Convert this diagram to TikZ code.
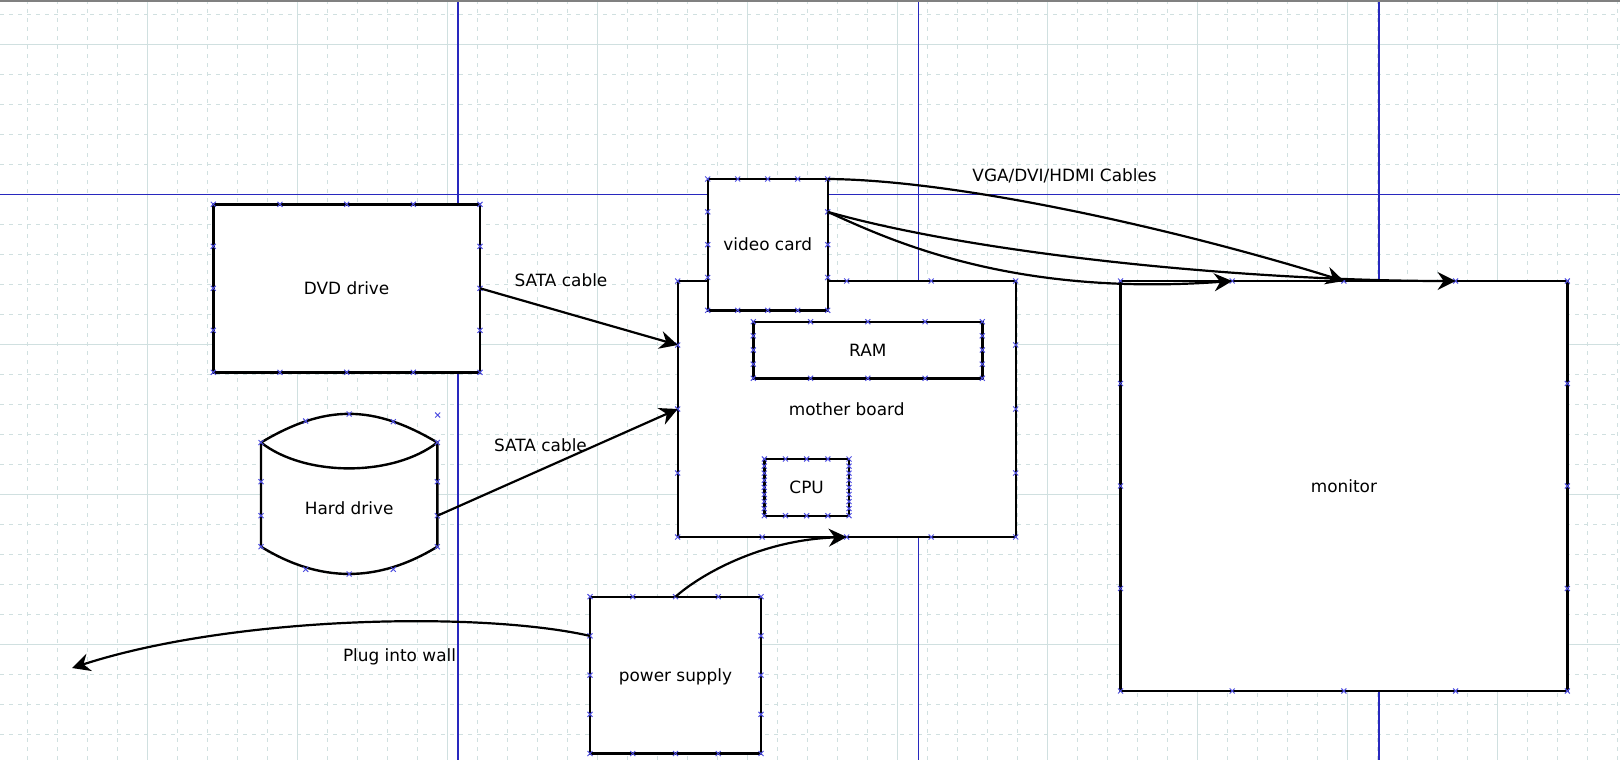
\documentclass[tikz,border=0pt]{standalone}
\usepackage{fontspec}
\setmainfont{DejaVu Sans}
\usetikzlibrary{arrows.meta,calc}
\definecolor{gridline}{RGB}{208,224,224}
\definecolor{pageline}{RGB}{40,40,190}
\definecolor{portblue}{RGB}{80,80,225}
\newcommand\markports[3]{%
  \foreach \fr in {#2}{%
    \path ($(#1.north west)!\fr!(#1.north east)$) pic {portx};
    \path ($(#1.south west)!\fr!(#1.south east)$) pic {portx};}%
  \foreach \fr in {#3}{%
    \path ($(#1.north west)!\fr!(#1.south west)$) pic {portx};
    \path ($(#1.north east)!\fr!(#1.south east)$) pic {portx};}}
\begin{document}
\begin{tikzpicture}[
  x=0.5pt, y=-0.5pt,
  every node/.style={font=\fontsize{8.45}{10}\selectfont, text height=6.2pt, text depth=0pt, inner sep=0pt, outer sep=0pt},
  part/.style={draw, line width=1.2pt, fill=white},
  drum/.style={draw, line width=1.2pt, fill=white, line join=miter},
  cable/.style={draw, line width=1.1pt, -{Stealth[length=9pt, width=9pt, inset=3pt]}},
  gridfine/.style={gridline, line width=0.5pt, dash pattern=on 2pt off 2.5pt},
  gridmain/.style={gridline, line width=0.5pt},
  pagebreak/.style={pageline, line width=0.8pt},
  markline/.style={portblue, line width=0.5pt},
  portx/.pic={\draw[markline] (-2.5,-2.5) -- (2.5,2.5) (-2.5,2.5) -- (2.5,-2.5);}
]
\fill[white] (0,0) rectangle (1620,760);
\useasboundingbox (0,0) rectangle (1620,760);
\foreach \gx in {27.7,57.7,...,1620} \draw[gridfine] (\gx,0) -- (\gx,760);
\foreach \gy in {14.3,44.3,...,760} \draw[gridfine] (0,\gy) -- (1620,\gy);
\foreach \gx in {147.7,297.7,...,1620} \draw[gridmain] (\gx,0) -- (\gx,760);
\foreach \gy in {44.3,194.3,...,760} \draw[gridmain] (0,\gy) -- (1620,\gy);
\foreach \gx in {457.7,918.3,1379} \draw[pagebreak] (\gx,0) -- (\gx,760);
\draw[pagebreak] (0,194.3) -- (1620,194.3);
\draw[gray, line width=0.8pt] (0,0.8) -- (1620,0.8);

\node (sata1) at (561,280) {SATA cable};
\node (sata2) at (540.5,445) {SATA cable};
\node (plug) at (399.5,655.4) {Plug into wall};
\node (vga) at (1064.6,175.6) {VGA/DVI/HDMI Cables};

\node[part, minimum width=133.35pt, minimum height=84pt] (dvd) at (346.65,288.3) {DVD drive};
\markports{dvd}{0,0.25,...,1}{0.25,0.5,0.75}

\draw[drum] (261,442.5) .. controls (325,404.3) and (373,404.3) .. (437.3,442.5)
  -- (437.3,546.7) .. controls (378,583) and (320,583) .. (261,546.7) -- cycle;
\draw[line width=1.2pt] (261,442.5) .. controls (305,477) and (393,477) .. (437.3,442.5);
\node[minimum width=88.15pt, minimum height=65.75pt] (hdd) at (349.15,508.25) {Hard drive};
\foreach \px/\py in {261/442.5, 261/481.7, 261/515.7, 261/546.7, 437.3/442.5, 437.3/481.7,
  437.3/515.7, 437.3/546.7, 305.7/421, 349.2/414, 393.3/421.7, 305.7/569.3, 349.2/574,
  393.3/569.3, 437.7/415}
  \path (\px,\py) pic {portx};

\node[part, minimum width=169pt, minimum height=128pt] (mobo) at (846.7,409) {mother board};
\markports{mobo}{0,0.25,...,1}{0.25,0.5,0.75}
\node[part, minimum width=114.5pt, minimum height=28.3pt] (ram) at (867.8,350) {RAM};
\markports{ram}{0,0.25,...,1}{0.25,0.5,0.75}
\node[part, minimum width=42.35pt, minimum height=28.35pt] (cpu) at (806.65,487.35) {CPU};
\markports{cpu}{0,0.25,...,1}{0.125,0.25,...,0.875}
\node[part, minimum width=60pt, minimum height=65.65pt] (vcard) at (767.7,244.65) {video card};
\markports{vcard}{0,0.25,...,1}{0.25,0.5,0.75}
\node[part, minimum width=223.4pt, minimum height=205pt] (monitor) at (1343.9,486) {monitor};
\markports{monitor}{0,0.25,...,1}{0.25,0.5,0.75}
\node[part, minimum width=85.5pt, minimum height=78.4pt] (psu) at (675.5,675.1) {power supply};
\markports{psu}{0,0.25,...,1}{0.25,0.5,0.75}
\coordinate (wall) at (72,668);

\draw[cable] (dvd.east) -- ([yshift=32pt]mobo.west);
\draw[cable] ([yshift=-3.75pt]hdd.east) -- (mobo.west);
\draw[cable] (psu.north) .. controls +(24.5,-21.7) and +(-86.7,3) .. (mobo.south);
\draw[cable] ([yshift=19.6pt]psu.west) .. controls +(-110,-25) and +(160,-52) .. (wall);
\draw[cable] (vcard.north east) .. controls +(132.3,1) and +(-163.9,-51) .. (monitor.north);
\draw[cable] ([yshift=16.4pt]vcard.east) .. controls +(152.3,43.2) and +(-205.6,0)
  .. ($(monitor.north)!0.5!(monitor.north east)$);
\draw[cable] ([yshift=16.4pt]vcard.east) .. controls +(62.3,28.2) and +(-221.8,16)
  .. ($(monitor.north west)!0.5!(monitor.north)$);
\end{tikzpicture}
\end{document}
